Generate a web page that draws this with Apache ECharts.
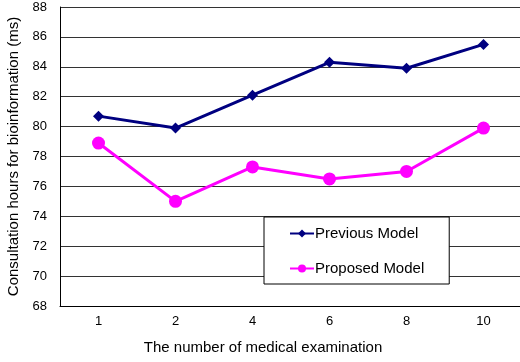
<!DOCTYPE html>
<html>
<head>
<meta charset="utf-8">
<script src="https://cdn.jsdelivr.net/npm/echarts@6/dist/echarts.min.js"></script>
<style>
  html, body { margin: 0; padding: 0; background: #fff; }
  #chart { width: 520px; height: 362px; }
</style>
</head>
<body>
<div id="chart"></div>
<script>
const categories = ['1', '2', '4', '6', '8', '10'];
const previousModel = [80.7, 79.9, 82.1, 84.3, 83.9, 85.5];
const proposedModel = [78.9, 75.0, 77.3, 76.5, 77.0, 79.9];

const chart = echarts.init(document.getElementById('chart'));

const font = 'Liberation Sans, Arial, sans-serif';

const option = {
  animation: false,
  textStyle: { fontFamily: font },
  grid: { left: 60, right: -2, top: 7, bottom: 56, outerBoundsMode: 'none', containLabel: false },
  legend: {
    orient: 'vertical',
    left: 264,
    top: 217,
    itemGap: 20,
    padding: [9, 25, 8, 25],
    backgroundColor: '#fff',
    borderColor: '#000',
    borderWidth: 1,
    itemWidth: 24,
    itemHeight: 10,
    textStyle: { color: '#000', fontSize: 15, fontFamily: font, padding: [0, 0, 0, -4] },
    data: ['Previous Model', 'Proposed Model']
  },
  xAxis: {
    type: 'category',
    data: categories,
    boundaryGap: true,
    name: 'The number of medical examination',
    nameLocation: 'middle',
    nameGap: 34,
    nameTextStyle: { color: '#000', fontSize: 15, padding: [0, 56, 0, 0] },
    axisLine: { lineStyle: { color: '#000', width: 1 } },
    axisTick: { inside: true, length: 4, lineStyle: { color: '#000' } },
    axisLabel: { color: '#000', fontSize: 13, margin: 9 },
    splitLine: { show: false }
  },
  yAxis: {
    type: 'value',
    min: 68,
    max: 88,
    interval: 2,
    name: 'Consultation hours for bioinformation (ms)',
    nameLocation: 'middle',
    nameGap: 37,
    nameTextStyle: { color: '#000', fontSize: 15 },
    axisLine: { show: true, lineStyle: { color: '#000', width: 1 } },
    axisTick: { show: false },
    axisLabel: { color: '#000', fontSize: 13, margin: 13 },
    splitLine: { lineStyle: { color: '#333', width: 1 } }
  },
  series: [
    {
      name: 'Previous Model',
      type: 'line',
      data: previousModel,
      symbol: 'diamond',
      symbolSize: 11,
      itemStyle: { color: '#000080' },
      lineStyle: { color: '#000080', width: 3 }
    },
    {
      name: 'Proposed Model',
      type: 'line',
      data: proposedModel,
      symbol: 'circle',
      symbolSize: 13,
      itemStyle: { color: '#ff00ff' },
      lineStyle: { color: '#ff00ff', width: 3 }
    }
  ]
};

chart.setOption(option);
</script>
</body>
</html>
